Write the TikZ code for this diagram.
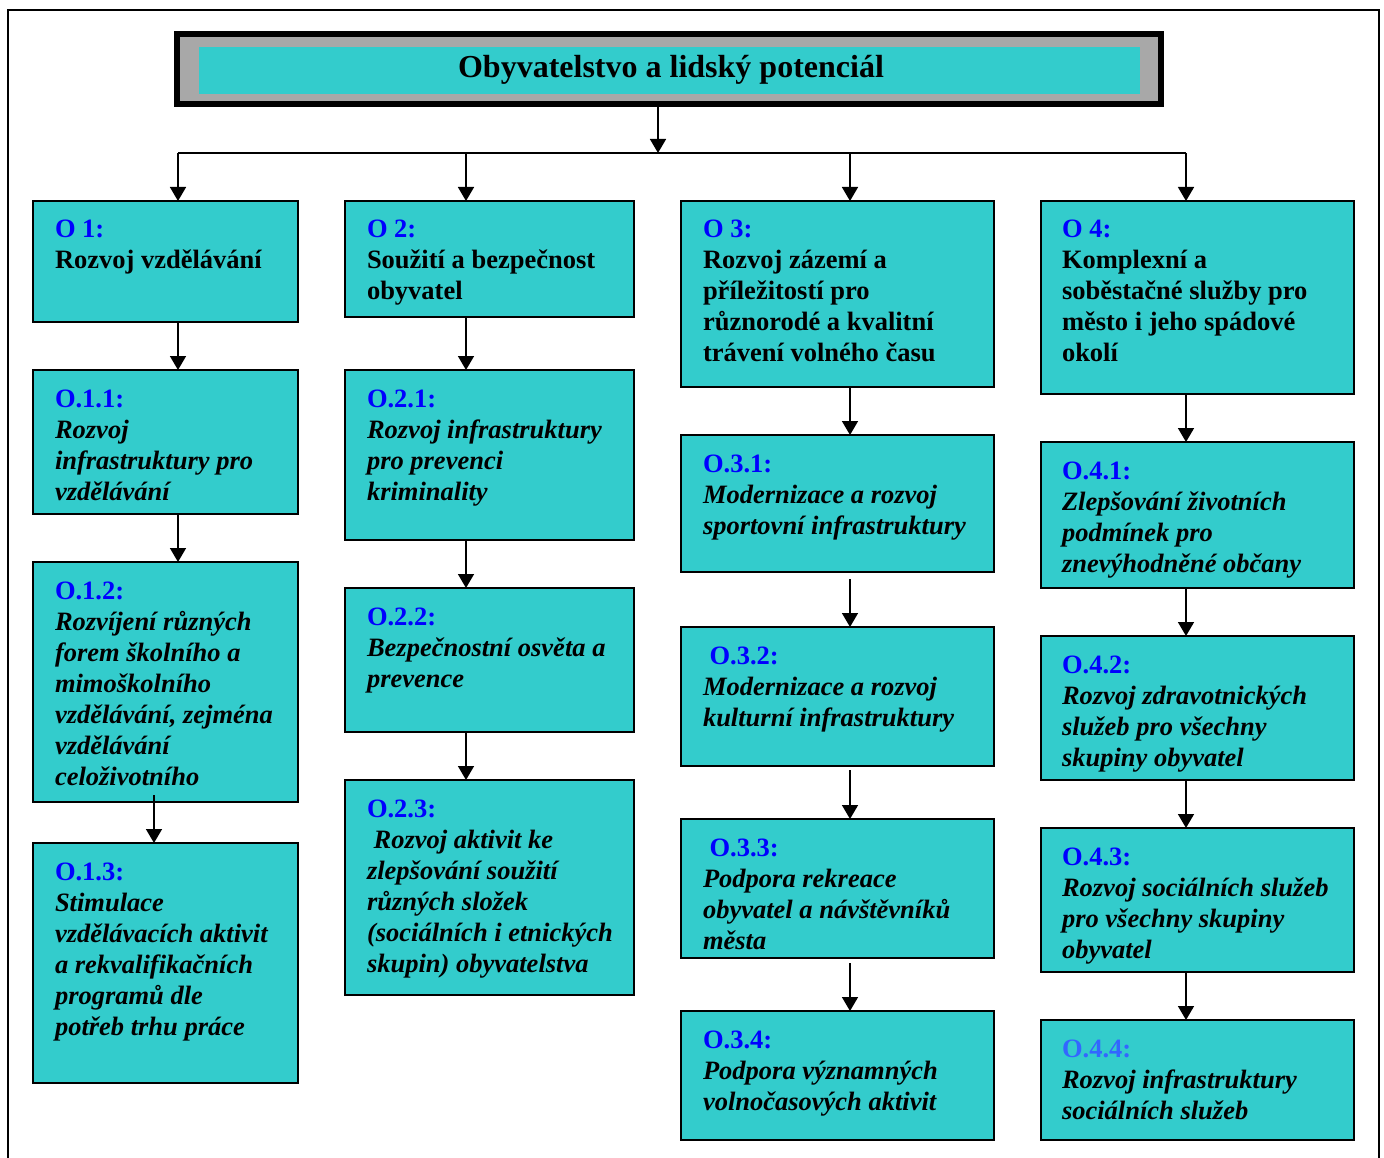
\documentclass[tikz,border=0pt]{standalone}
\usepackage{fontspec}
\setmainfont{Liberation Serif}
\usetikzlibrary{arrows.meta,calc}
\definecolor{boxcyan}{HTML}{33CCCC}
\definecolor{lblue}{HTML}{0000FF}
\definecolor{lblueb}{HTML}{3366FF}
\definecolor{patgray}{HTML}{A8A8A8}
\newcommand{\lab}[1]{\textcolor{lblue}{#1}}
\newcommand{\obx}[5]{\node[obox, minimum width=#4pt, minimum height=#5pt] (#1) at (#2,#3) {};}
\newcommand{\btext}[4]{\node[btxt] (#1) at (#2,#3+1) {\parbox[t]{330pt}{\raggedright #4}};}
\begin{document}
\begin{tikzpicture}[x=1pt,y=-1pt,
  obox/.style={draw=black, fill=boxcyan, line width=2pt, anchor=north west, inner sep=0pt, outer sep=0pt},
  btxt/.style={anchor=base west, inner sep=0pt, outer sep=0pt, font=\fontsize{26.5}{31}\selectfont\bfseries},
  arr/.style={line width=1.6pt, -{Triangle[width=16pt,length=14pt]}},
  bus/.style={line width=1.6pt},
  frame/.style={line width=2pt}]
\useasboundingbox (0,0) rectangle (1384,1158);
\clip (0,0) rectangle (1384,1158);
\fill[white] (0,0) rectangle (1384,1158);
% outer frame
\draw[frame] (8,1200) -- (8,10) -- (1379,10) -- (1379,1200);
% column axes
\coordinate (c1) at (178,0);
\coordinate (c1b) at (154,0);
\coordinate (c2) at (466,0);
\coordinate (c3) at (850,0);
\coordinate (c4) at (1186,0);
\coordinate (busc) at (658,153);
% title
\node[draw=black, line width=6pt, fill=patgray, anchor=north west, inner sep=0pt, outer sep=0pt,
      minimum width=984pt, minimum height=70pt] (title) at (177,34) {};
\node[fill=boxcyan, anchor=north west, inner sep=0pt, outer sep=0pt,
      minimum width=941pt, minimum height=47pt] (titlein) at (199,47) {};
\node[anchor=base, inner sep=0pt, font=\fontsize{32}{38}\selectfont\bfseries] (titletext) at (671,78) {Obyvatelstvo a lidský potenciál};
% boxes
\obx{o1}{33}{201}{265}{121}
\obx{o11}{33}{370}{265}{144}
\obx{o12}{33}{562}{265}{240}
\obx{o13}{33}{843}{265}{240}
\obx{o2}{345}{201}{289}{116}
\obx{o21}{345}{370}{289}{170}
\obx{o22}{345}{588}{289}{144}
\obx{o23}{345}{780}{289}{215}
\obx{o3}{681}{201}{313}{186}
\obx{o31}{681}{435}{313}{137}
\obx{o32}{681}{627}{313}{139}
\obx{o33}{681}{819}{313}{139}
\obx{o34}{681}{1011}{313}{129}
\obx{o4}{1041}{201}{313}{193}
\obx{o41}{1041}{442}{313}{146}
\obx{o42}{1041}{636}{313}{144}
\obx{o43}{1041}{828}{313}{144}
\obx{o44}{1041}{1020}{313}{120}
% texts
\btext{t1}{55}{237}{\lab{O 1:}\\ Rozvoj vzdělávání}
\btext{t11}{55}{406}{\lab{O.1.1:}\\ \itshape Rozvoj\\ infrastruktury pro\\ vzdělávání}
\btext{t12}{55}{598}{\lab{O.1.2:}\\ \itshape Rozvíjení různých\\ forem školního a\\ mimoškolního\\ vzdělávání, zejména\\ vzdělávání\\ celoživotního}
\btext{t13}{55}{879}{\lab{O.1.3:}\\ \itshape Stimulace\\ vzdělávacích aktivit\\ a rekvalifikačních\\ programů dle\\ potřeb trhu práce}
\btext{t2}{367}{237}{\lab{O 2:}\\ Soužití a bezpečnost\\ obyvatel}
\btext{t21}{367}{406}{\lab{O.2.1:}\\ \itshape Rozvoj infrastruktury\\ pro prevenci\\ kriminality}
\btext{t22}{367}{624}{\lab{O.2.2:}\\ \itshape Bezpečnostní osvěta a\\ prevence}
\btext{t23}{367}{816}{\lab{O.2.3:}\\ \itshape\hspace*{6.6pt}Rozvoj aktivit ke\\ zlepšování soužití\\ různých složek\\ (sociálních i etnických\\ skupin) obyvatelstva}
\btext{t3}{703}{237}{\lab{O 3:}\\ Rozvoj zázemí a\\ příležitostí pro\\ různorodé a kvalitní\\ trávení volného času}
\btext{t31}{703}{471}{\lab{O.3.1:}\\ \itshape Modernizace a rozvoj\\ sportovní infrastruktury}
\btext{t32}{703}{663}{\hspace*{6.6pt}\lab{O.3.2:}\\ \itshape Modernizace a rozvoj\\ kulturní infrastruktury}
\btext{t33}{703}{855}{\hspace*{6.6pt}\lab{O.3.3:}\\ \itshape Podpora rekreace\\ obyvatel a návštěvníků\\ města}
\btext{t34}{703}{1047}{\lab{O.3.4:}\\ \itshape Podpora významných\\ volnočasových aktivit}
\btext{t4}{1062}{237}{\lab{O 4:}\\ Komplexní a\\ soběstačné služby pro\\ město i jeho spádové\\ okolí}
\btext{t41}{1062}{478}{\lab{O.4.1:}\\ \itshape Zlepšování životních\\ podmínek pro\\ znevýhodněné občany}
\btext{t42}{1062}{672}{\lab{O.4.2:}\\ \itshape Rozvoj zdravotnických\\ služeb pro všechny\\ skupiny obyvatel}
\btext{t43}{1062}{864}{\lab{O.4.3:}\\ \itshape Rozvoj sociálních služeb\\ pro všechny skupiny\\ obyvatel}
\btext{t44}{1062}{1056}{\textcolor{lblueb}{O.4.4:}\\ \itshape Rozvoj infrastruktury\\ sociálních služeb}
% connectors
\draw[arr] (title.south -| busc) -- (busc);
\draw[bus] (busc -| c1) -- (busc -| c4);
\draw[arr] (busc -| c1) -- (o1.north -| c1);
\draw[arr] (busc -| c2) -- (o2.north -| c2);
\draw[arr] (busc -| c3) -- (o3.north -| c3);
\draw[arr] (busc -| c4) -- (o4.north -| c4);
\draw[arr] (o1.south -| c1) -- (o11.north -| c1);
\draw[arr] (o11.south -| c1) -- (o12.north -| c1);
\draw[arr] ($(o12.south -| c1b)+(0,-7)$) -- (o13.north -| c1b);
\draw[arr] (o2.south -| c2) -- (o21.north -| c2);
\draw[arr] (o21.south -| c2) -- (o22.north -| c2);
\draw[arr] (o22.south -| c2) -- (o23.north -| c2);
\draw[arr] (o3.south -| c3) -- (o31.north -| c3);
\draw[arr] ($(o31.south -| c3)+(0,7)$) -- (o32.north -| c3);
\draw[arr] ($(o32.south -| c3)+(0,4)$) -- (o33.north -| c3);
\draw[arr] ($(o33.south -| c3)+(0,5)$) -- (o34.north -| c3);
\draw[arr] (o4.south -| c4) -- (o41.north -| c4);
\draw[arr] (o41.south -| c4) -- (o42.north -| c4);
\draw[arr] (o42.south -| c4) -- (o43.north -| c4);
\draw[arr] (o43.south -| c4) -- (o44.north -| c4);
\end{tikzpicture}
\end{document}
